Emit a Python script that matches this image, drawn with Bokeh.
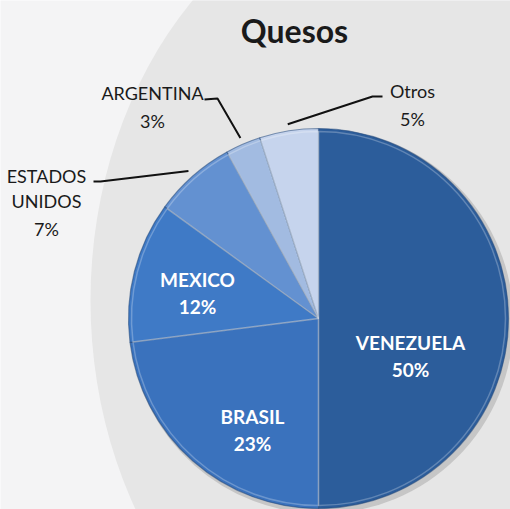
import math
from bokeh.plotting import figure
from bokeh.models import Range1d, ColumnDataSource
from bokeh.core.properties import value
from bokeh.embed import file_html
from bokeh.resources import INLINE

# ---- data ----
countries = ["VENEZUELA", "BRASIL", "MEXICO", "ESTADOS UNIDOS", "ARGENTINA", "Otros"]
shares = [50, 23, 12, 7, 3, 5]
colors = ["#2c5d9b", "#3a72bd", "#3f7ac6", "#6391d1", "#a2bbe1", "#c6d4ed"]
title_text = "Quesos"

# ---- layout ----
W, H = 510, 509
R = 190
p = figure(width=W, height=H, output_backend="svg", toolbar_location=None,
           x_range=Range1d(-318, 192), y_range=Range1d(-191, 318),
           min_border=0)
p.axis.visible = False
p.grid.visible = False
p.outline_line_color = None
p.background_fill_color = "#f4f4f5"
p.border_fill_color = "#f4f4f5"

# decorative background shape
p.ellipse(x=[112], y=[18], width=680, height=840, fill_color="#e6e6e6", line_color=None)

# wedges (clockwise from 12 o'clock)
total = float(sum(shares))
starts, ends, mids = [], [], []
cum = 0.0
for s in shares:
    a0 = cum / total * 2 * math.pi
    cum += s
    a1 = cum / total * 2 * math.pi
    starts.append(math.pi / 2 - a0)
    ends.append(math.pi / 2 - a1)
    mids.append((a0 + a1) / 2)

src = ColumnDataSource(dict(start=starts, end=ends, color=colors))
# soft shadow
p.wedge(x=3, y=-3, radius=R + 2, start_angle="start", end_angle="end", direction="clock",
        source=src, fill_color="#8a8a8a", fill_alpha=0.35, line_color=None)
p.wedge(x=0, y=0, radius=R, start_angle="start", end_angle="end", direction="clock",
        source=src, fill_color="color", line_color="#24497a", line_alpha=0.55, line_width=1.2)
# bevel highlight
p.wedge(x=0, y=0, radius=R - 3, start_angle="start", end_angle="end", direction="clock",
        source=src, fill_color=None, line_color="white", line_alpha=0.25, line_width=1.5)

# title
p.text(x=[-24], y=[288], text=[title_text], text_font=value("Lato"), text_font_style="bold",
       text_font_size="32px", text_color="#1a1a1a", text_align="center", text_baseline="middle")

def pct(i):
    return "%d%%" % shares[i]

# inside labels (white bold)
inside = {0: (92, -24), 1: (-66, -98), 2: (-121, 39)}
in_x, in_y, in_t = [], [], []
for i, (lx, ly) in inside.items():
    in_x += [lx, lx]
    in_y += [ly, ly - 27]
    in_t += [countries[i], pct(i)]
p.text(x=in_x, y=in_y, text=in_t, text_font=value("Lato"), text_font_style="bold",
       text_font_size="19px", text_color="white", text_align="center", text_baseline="middle")

# outside labels (black normal)
out_x, out_y, out_t = [], [], []
# ESTADOS UNIDOS
out_x += [-272, -272, -272]; out_y += [143, 118, 90]; out_t += ["ESTADOS", "UNIDOS", pct(3)]
# ARGENTINA
out_x += [-166, -166]; out_y += [226, 198]; out_t += [countries[4], pct(4)]
# Otros
out_x += [94, 94]; out_y += [228, 200]; out_t += [countries[5], pct(5)]
p.text(x=out_x, y=out_y, text=out_t, text_font=value("Lato"),
       text_font_size="18px", text_color="#1a1a1a", text_align="center", text_baseline="middle")

# leader lines: from label elbow to slice mid-point just outside the rim
rl = R * 1.035
def rim(i):
    a = mids[i]
    return rl * math.sin(a), rl * math.cos(a)

leaders = {3: [(-225, 137), (-218, 137)], 4: [(-114, 219), (-101, 220)], 5: [(64, 222), (54, 222)]}
xs, ys = [], []
for i, pts in leaders.items():
    rx, ry = rim(i)
    xs.append([pt[0] for pt in pts] + [rx])
    ys.append([pt[1] for pt in pts] + [ry])
p.multi_line(xs=xs, ys=ys, line_color="#111111", line_width=2)

open("out.html", "w").write(file_html(p, INLINE))
